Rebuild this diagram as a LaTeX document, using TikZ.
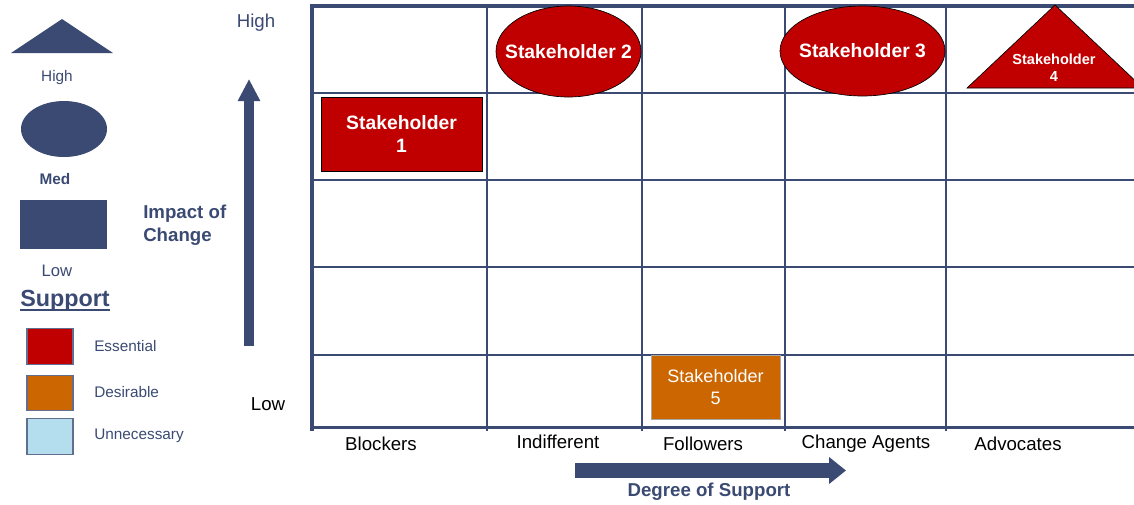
\documentclass[tikz,border=0pt]{standalone}
\usepackage{fontspec}
\setmainfont{Liberation Sans}
\usetikzlibrary{positioning, arrows.meta, shapes.geometric}
\definecolor{navy}{RGB}{58,74,114}
\definecolor{essred}{RGB}{192,0,0}
\definecolor{desorange}{RGB}{204,102,0}
\definecolor{unnblue}{RGB}{180,222,238}
\tikzset{
    x=0.75pt, y=-0.75pt,
    gridline/.style={navy, line width=1.6pt},
    gridframe/.style={navy, line width=2.7pt},
    essential/.style={fill=essred, draw=black, line width=0.5pt},
    holder/.style={text=white, font=\bfseries\fontsize{14.5}{17}\selectfont, align=center, inner sep=0pt},
    legendtext/.style={text=navy, font=\fontsize{11.5}{13}\selectfont, anchor=west, inner sep=0pt},
    legendbox/.style={draw=navy!80, line width=0.8pt, minimum width=34.5pt, minimum height=26.5pt, inner sep=0pt},
    axislabel/.style={font=\fontsize{14}{16}\selectfont, inner sep=0pt},
    bigarrow/.style={navy, line width=#1},
}

\begin{document}
\begin{tikzpicture}
    \useasboundingbox (0,0) rectangle (1134,504);

    % legend: impact shapes
    \fill[navy] (11,53) -- (62,19) -- (113,53) -- cycle;
    \node[legendtext, anchor=center] (legHigh) at (57,78) {High};
    \node[ellipse, fill=navy, minimum width=64.5pt, minimum height=42pt, inner sep=0pt] (legMed) at (64,129) {};
    \node[legendtext, anchor=center, font=\bfseries\fontsize{11.5}{13}\selectfont] (legMedText) at (55,179) {Med};
    \fill[navy] (20,200) rectangle (107,249);
    \node[legendtext, anchor=center, font=\fontsize{12.5}{14}\selectfont] (legLow) at (57,271) {Low};

    % legend: support colours
    \node[inner sep=0pt, text=navy, font=\bfseries\fontsize{17.5}{20}\selectfont] (supportTitle) at (65,301) {Support};
    \draw[navy, line width=1.5pt] ([yshift=-2.4pt]supportTitle.base west) -- ([yshift=-2.4pt]supportTitle.base east);
    \node[legendbox, fill=essred] (boxEss) at (50,346.5) {};
    \node[legendbox, fill=desorange] (boxDes) at (50,393) {};
    \node[legendbox, fill=unnblue] (boxUnn) at (50,436.5) {};
    \node[legendtext] (txtEss) at (94,346) {Essential};
    \node[legendtext] (txtDes) at (94,392) {Desirable};
    \node[legendtext] (txtUnn) at (94,436) {Unnecessary};

    % impact axis
    \node[axislabel, text=navy] (impHigh) at (256,23) {High};
    \node[axislabel] (impLow) at (268,404) {Low};
    \node[axislabel, text=navy, font=\bfseries\fontsize{14}{17}\selectfont, align=left, anchor=west] (impTitle) at (143,225.5) {Impact of\\Change};
    \coordinate (impFoot) at (249,346);
    \coordinate (impTip) at (249,79);
    \draw[bigarrow=7.5pt, -{Triangle[width=15.75pt,length=16.5pt]}] (impFoot) -- (impTip);

    % grid
    \foreach \gx in {487,642,785,946}
        \draw[gridline] (\gx,6) -- (\gx,431);
    \foreach \gy in {93,180,267,355}
        \draw[gridline] (312,\gy) -- (1134,\gy);
    \draw[gridframe] (312,431) -- (312,6) -- (1134,6);
    \draw[gridframe] (312,427.5) -- (1134,427.5);

    % stakeholders
    \node[essential, rectangle, minimum width=120.75pt, minimum height=55.5pt] (sh1) at (401.5,134) {};
    \node[holder] at (sh1) {Stakeholder\\1};
    \node[essential, ellipse, minimum width=108.75pt, minimum height=68.25pt, inner sep=0pt] (sh2) at (568.5,51.5) {};
    \node[holder] at (sh2) {Stakeholder 2};
    \node[essential, ellipse, minimum width=123.75pt, minimum height=67.5pt, inner sep=0pt] (sh3) at (862.5,51) {};
    \node[holder] at (sh3) {Stakeholder 3};
    \draw[essential] (967,88) -- (1055,5) -- (1143,88) -- cycle;
    \node[holder, font=\bfseries\fontsize{10.9}{13}\selectfont] (sh4) at (1054,68) {Stakeholder\\4};
    \node[rectangle, fill=desorange, draw=gray!70, line width=0.5pt, minimum width=96.75pt, minimum height=48pt] (sh5) at (715.5,387) {};
    \node[holder, font=\fontsize{13.5}{17}\selectfont] at (sh5) {Stakeholder\\5};

    % support axis
    \node[axislabel] (colBlock) at (381,444) {Blockers};
    \node[axislabel] (colIndiff) at (558,442) {Indifferent};
    \node[axislabel] (colFollow) at (703,444) {Followers};
    \node[axislabel] (colAgents) at (866,444) {Change Agents};
    \node[axislabel] (colAdvoc) at (1018,444) {Advocates};
    \coordinate (supFoot) at (575,470.5);
    \coordinate (supTip) at (846,470.5);
    \draw[bigarrow=11.25pt, -{Triangle[width=19.5pt,length=12.75pt]}] (supFoot) -- (supTip);
    \node[axislabel, text=navy, font=\bfseries\fontsize{14}{16}\selectfont] (supTitle) at (709,492) {Degree of Support};
\end{tikzpicture}
\end{document}
